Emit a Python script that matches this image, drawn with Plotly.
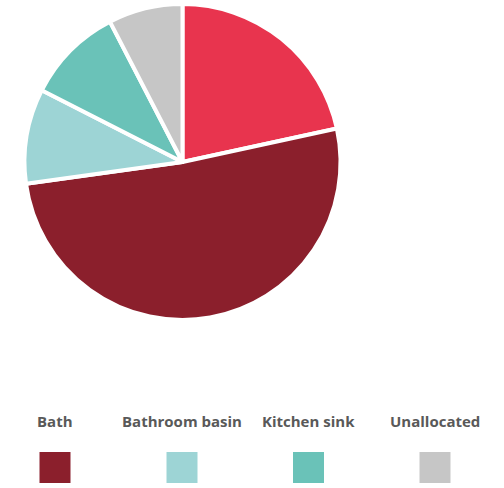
import plotly.graph_objects as go

# Share of hot water use by outlet
categories = ["Shower", "Bath", "Bathroom basin", "Kitchen sink", "Unallocated"]
values = [21.6, 51.2, 9.7, 9.9, 7.6]
colors = ["#E8344E", "#8B1F2C", "#9DD4D5", "#6AC2B8", "#C6C6C6"]

# Items shown in the key under the pie
legend_items = ["Bath", "Bathroom basin", "Kitchen sink", "Unallocated"]

W, H = 504, 488
cx, cy, r = 182.5, 162, 158

fig = go.Figure(
    go.Pie(
        labels=categories,
        values=values,
        sort=False,
        direction="clockwise",
        rotation=0,
        textinfo="none",
        hoverinfo="label+percent",
        marker=dict(colors=colors, line=dict(color="white", width=4)),
        domain=dict(x=[(cx - r) / W, (cx + r) / W], y=[1 - (cy + r) / H, 1 - (cy - r) / H]),
        showlegend=False,
    )
)

# Key: label above a coloured square, one column per item
col_centers = [55, 182, 308.5, 435]
sq = 31
annotations = []
shapes = []
for name, xc in zip(legend_items, col_centers):
    color = colors[categories.index(name)]
    annotations.append(
        dict(
            text=f"<b>{name}</b>",
            x=xc / W, y=1 - 421 / H,
            xref="paper", yref="paper",
            xanchor="center", yanchor="middle",
            showarrow=False,
            font=dict(family="Open Sans, sans-serif", size=15, color="#595959"),
        )
    )
    shapes.append(
        dict(
            type="rect", xref="paper", yref="paper",
            x0=(xc - sq / 2) / W, x1=(xc + sq / 2) / W,
            y0=1 - 483 / H, y1=1 - 452 / H,
            fillcolor=color, line=dict(width=0),
        )
    )

fig.update_layout(
    width=W, height=H,
    margin=dict(l=0, r=0, t=0, b=0),
    paper_bgcolor="white",
    plot_bgcolor="white",
    annotations=annotations,
    shapes=shapes,
)

fig.write_html("out.html")
